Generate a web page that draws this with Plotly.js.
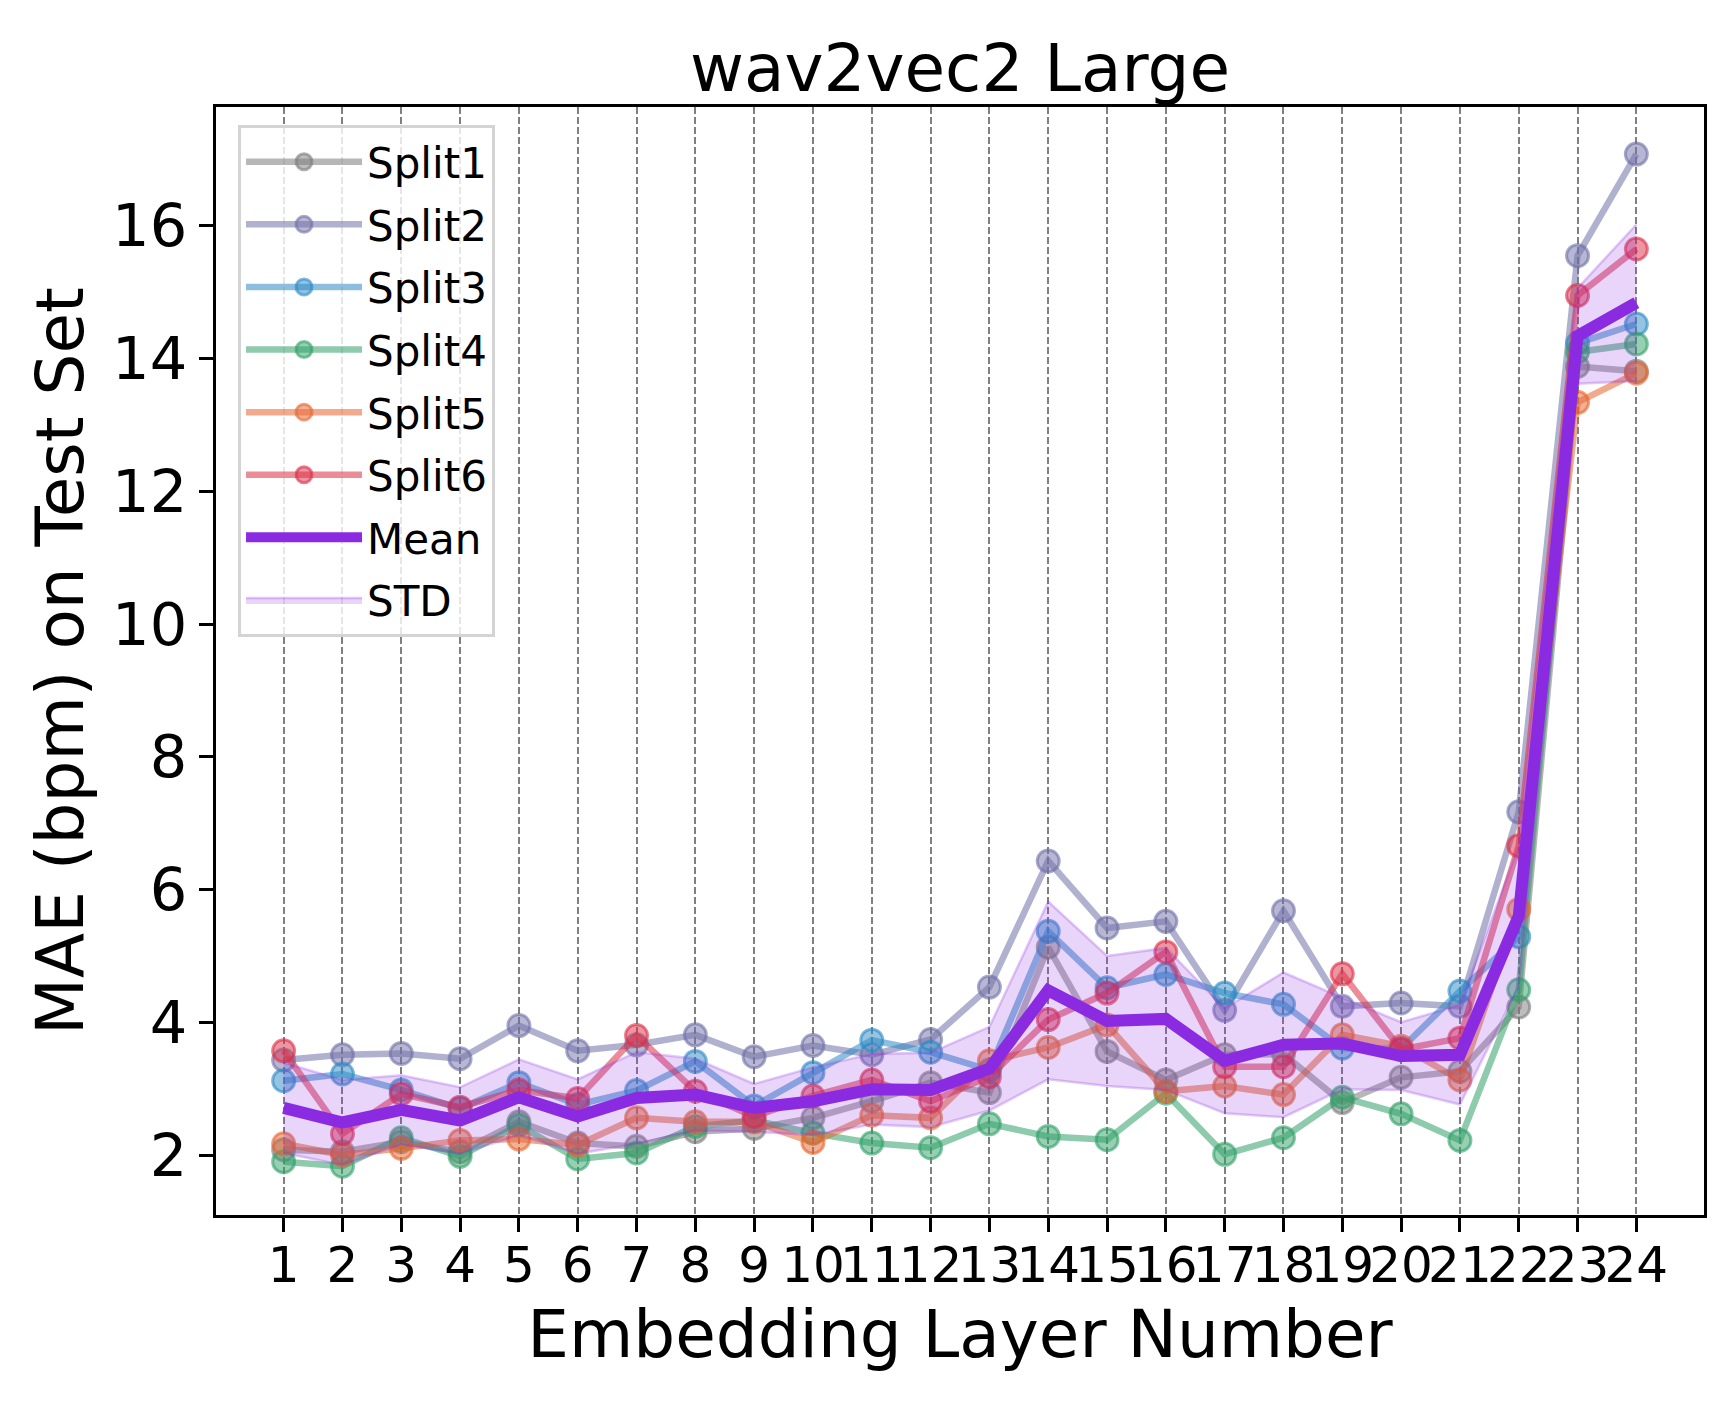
<!DOCTYPE html>
<html>
<head>
<meta charset="utf-8">
<script src="https://cdn.plot.ly/plotly-3.0.1.min.js"></script>
<style>
  body { margin: 0; background: #fff; }
  #chart { width: 1734px; height: 1405px; }
</style>
</head>
<body>
<div id="chart"></div>
<script>
// embedding layers and MAE per split
const layers = [1, 2, 3, 4, 5, 6, 7, 8, 9, 10, 11, 12, 13, 14, 15, 16, 17, 18, 19, 20, 21, 22, 23, 24];
const layerLabels = layers.map(String);

const split1 = [2.08, 2.05, 2.20, 2.05, 2.50, 2.18, 2.13, 2.35, 2.40, 2.56, 2.81, 3.09, 2.94, 5.13, 3.56, 3.13, 3.51, 3.52, 2.79, 3.17, 3.26, 4.23, 13.88, 13.81];
const split2 = [3.43, 3.51, 3.53, 3.45, 3.95, 3.57, 3.66, 3.81, 3.48, 3.65, 3.51, 3.74, 4.53, 6.43, 5.42, 5.52, 4.18, 5.68, 4.24, 4.29, 4.24, 7.17, 15.55, 17.08];
const split3 = [3.12, 3.22, 2.98, 2.70, 3.09, 2.76, 2.97, 3.41, 2.74, 3.24, 3.73, 3.55, 3.28, 5.37, 4.52, 4.72, 4.44, 4.27, 3.61, 3.60, 4.47, 5.29, 14.23, 14.52];
const split4 = [1.90, 1.83, 2.26, 1.98, 2.45, 1.94, 2.03, 2.43, 2.52, 2.33, 2.18, 2.11, 2.47, 2.28, 2.23, 2.93, 2.01, 2.26, 2.87, 2.62, 2.22, 4.49, 14.10, 14.22];
const split5 = [2.17, 2.00, 2.10, 2.22, 2.24, 2.15, 2.56, 2.50, 2.50, 2.19, 2.60, 2.56, 3.42, 3.62, 3.96, 2.96, 3.04, 2.91, 3.81, 3.64, 3.13, 5.70, 13.34, 13.78];
const split6 = [3.57, 2.32, 2.92, 2.72, 2.98, 2.85, 3.80, 2.96, 2.58, 2.89, 3.13, 2.81, 3.18, 4.04, 4.44, 5.06, 3.33, 3.33, 4.73, 3.59, 3.76, 6.66, 14.95, 15.65];

const meanMae = [2.71, 2.49, 2.68, 2.52, 2.87, 2.58, 2.86, 2.91, 2.71, 2.81, 2.99, 2.98, 3.30, 4.48, 4.02, 4.05, 3.42, 3.66, 3.68, 3.49, 3.51, 5.60, 14.34, 14.84];
const stdMae = [0.68, 0.64, 0.52, 0.50, 0.57, 0.56, 0.69, 0.54, 0.36, 0.51, 0.53, 0.56, 0.63, 1.34, 0.98, 1.07, 0.79, 1.09, 0.69, 0.51, 0.75, 1.06, 0.72, 1.18];

const yTicks = [2, 4, 6, 8, 10, 12, 14, 16];

const splits = [
    { name: "Split1", y: split1, rgb: "123,123,123" },
    { name: "Split2", y: split2, rgb: "112,112,168" },
    { name: "Split3", y: split3, rgb: "43,137,197" },
    { name: "Split4", y: split4, rgb: "48,160,104" },
    { name: "Split5", y: split5, rgb: "230,100,45" },
    { name: "Split6", y: split6, rgb: "220,45,70" }
];

const font = "DejaVu Sans, Liberation Sans, sans-serif";

const traces = splits.map((s, i) => ({
    x: layers,
    y: s.y,
    name: s.name,
    type: "scatter",
    mode: "lines+markers",
    legendrank: i + 1,
    legendgroup: s.name,
    line: { color: `rgba(${s.rgb},0.55)`, width: 6.5 },
    marker: {
        size: 22,
        color: `rgba(${s.rgb},0.5)`,
        line: { color: `rgba(${s.rgb},0.6)`, width: 3 }
    }
}));

const upper = meanMae.map((m, i) => m + stdMae[i]);
const lower = meanMae.map((m, i) => m - stdMae[i]);

traces.push({
    x: layers,
    y: lower,
    type: "scatter",
    mode: "lines",
    showlegend: false,
    legendgroup: "STD",
    line: { color: "rgba(138,43,226,0.25)", width: 2.5 },
    hoverinfo: "skip"
});
traces.push({
    x: layers,
    y: upper,
    name: "STD",
    type: "scatter",
    mode: "lines",
    fill: "tonexty",
    fillcolor: "rgba(138,43,226,0.2)",
    legendrank: 8,
    legendgroup: "STD",
    line: { color: "rgba(138,43,226,0.25)", width: 2.5 }
});
traces.push({
    x: layers,
    y: meanMae,
    name: "Mean",
    type: "scatter",
    mode: "lines",
    legendrank: 7,
    legendgroup: "Mean",
    line: { color: "#8a2be2", width: 12 }
});

const layout = {
    width: 1734,
    height: 1405,
    margin: { l: 216, r: 30, t: 107, b: 190 },
    paper_bgcolor: "#fff",
    plot_bgcolor: "#fff",
    font: { family: font, color: "#000" },
    title: {
        text: "wav2vec2 Large",
        font: { size: 66, family: font, color: "#000" },
        xref: "paper", x: 0.5, xanchor: "center",
        yref: "container", y: 0.952, yanchor: "middle"
    },
    xaxis: {
        range: [-0.15, 25.15],
        tickmode: "array",
        tickvals: layers,
        ticktext: layerLabels,
        tickangle: 0,
        tickfont: { size: 50, family: font, color: "#000" },
        ticks: "outside", ticklen: 14, tickwidth: 3, tickcolor: "#000",
        ticklabelstandoff: -10,
        showgrid: true, gridcolor: "#808080", gridwidth: 2, griddash: "7px,3px",
        zeroline: false,
        showline: true, linecolor: "#000", linewidth: 3, mirror: true,
        title: { text: "Embedding Layer Number", font: { size: 66, family: font, color: "#000" }, standoff: 18 }
    },
    yaxis: {
        range: [1.096, 17.79],
        tickmode: "array",
        tickvals: yTicks,
        tickfont: { size: 59, family: font, color: "#000" },
        ticks: "outside", ticklen: 14, tickwidth: 3, tickcolor: "#000",
        showgrid: false,
        zeroline: false,
        showline: true, linecolor: "#000", linewidth: 3, mirror: true,
        title: { text: "MAE (bpm) on Test Set", font: { size: 66, family: font, color: "#000" }, standoff: 8 }
    },
    legend: {
        x: 0.0148, y: 0.9838, xanchor: "left", yanchor: "top",
        bgcolor: "rgba(255,255,255,0.8)",
        bordercolor: "#d4d4d4", borderwidth: 3,
        font: { size: 42, family: font, color: "#000" },
        tracegroupgap: 5,
        itemwidth: 116,
        traceorder: "grouped"
    },
    showlegend: true
};

Plotly.newPlot("chart", traces, layout, { displayModeBar: false, staticPlot: true });
</script>
</body>
</html>
